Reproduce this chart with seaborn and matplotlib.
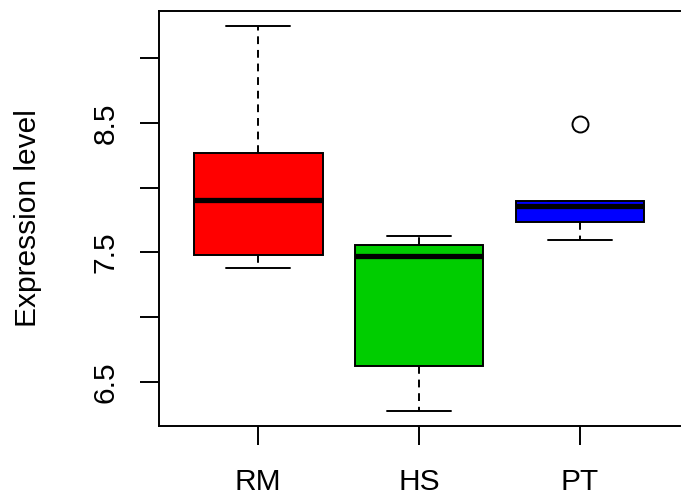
import numpy as np
import pandas as pd
import seaborn as sns
import matplotlib
matplotlib.use("Agg")
import matplotlib.pyplot as plt

# ---- data ----
groups = ["RM", "HS", "PT"]
rm_values = [7.379, 7.480, 7.907, 8.268, 9.247]
hs_values = [6.277, 6.624, 7.469, 7.557, 7.627]
pt_values = [7.598, 7.737, 7.861, 7.894, 8.492]
box_colors = ["#FF0000", "#00CD00", "#0000FF"]
y_ticks = [6.5, 7.0, 7.5, 8.0, 8.5, 9.0]
y_tick_labels = ["6.5", "", "7.5", "", "8.5", ""]
y_label = "Expression level"

df = pd.DataFrame({
    "group": ["RM"] * len(rm_values) + ["HS"] * len(hs_values) + ["PT"] * len(pt_values),
    "value": rm_values + hs_values + pt_values,
})

sns.set_style("white")
plt.rcParams["font.family"] = ["Liberation Sans", "DejaVu Sans"]

W, H = 682, 498
fig = plt.figure(figsize=(W / 100, H / 100), dpi=100)
left, right, top, bottom = 158.5, 679.7, 10.7, 426.0
ax = fig.add_axes([left / W, 1 - bottom / H, (right - left) / W, (bottom - top) / H])

lw = 1.4
sns.boxplot(
    data=df, x="group", y="value", hue="group", order=groups, hue_order=groups,
    palette=box_colors, saturation=1, width=0.8, whis=1.5,
    linecolor="black", linewidth=lw, legend=False, ax=ax,
    medianprops=dict(linewidth=3.8, color="black", solid_capstyle="butt"),
    whiskerprops=dict(linestyle=(0, (4, 3)), linewidth=lw, color="black"),
    capprops=dict(linestyle="-", linewidth=lw, color="black"),
    boxprops=dict(edgecolor="black", linewidth=lw),
    flierprops=dict(marker="o", markersize=11.5, markerfacecolor="none",
                    markeredgecolor="black", markeredgewidth=lw),
)

ax.set_xlim(-0.62, 2.62)
ax.set_ylim(6.158, 9.366)
ax.set_yticks(y_ticks)
ax.set_yticklabels(y_tick_labels, rotation=90, va="center")
ax.set_xlabel("")
ax.set_ylabel("")

for side in ["left", "bottom", "top"]:
    ax.spines[side].set_visible(True)
    ax.spines[side].set_color("black")
    ax.spines[side].set_linewidth(lw)
ax.spines["right"].set_visible(False)

ax.tick_params(axis="both", which="both", direction="out", length=13.7, width=lw,
               color="black", labelsize=21.5, labelcolor="black")
ax.tick_params(axis="x", pad=16.5, bottom=True)
ax.tick_params(axis="y", pad=14.2, left=True)

fig.text(28 / W, 1 - 218 / H, y_label, rotation=90, ha="center", va="center",
         fontsize=21.5, color="black")

fig.savefig("out.png", dpi=100)
